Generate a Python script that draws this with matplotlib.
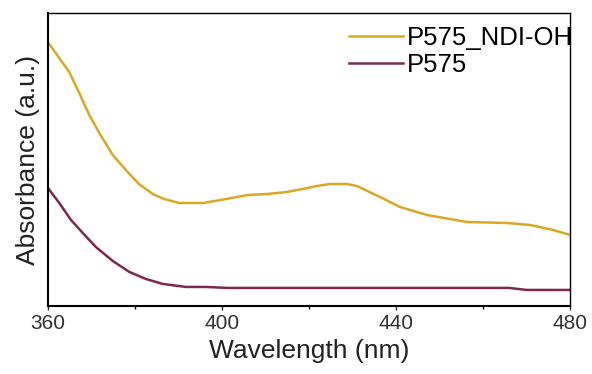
import numpy as np
import matplotlib.pyplot as plt
from matplotlib.ticker import MultipleLocator

plt.rcParams['font.family'] = ['Liberation Sans', 'DejaVu Sans']

# wavelength (nm) and absorbance (a.u.)
wl_ndi = [360.0, 362.6, 364.9, 367.2, 369.5, 371.8, 374.9, 377.9, 380.9, 384.1,
          386.7, 390.2, 395.6, 401.0, 406.0, 410.5, 414.9, 418.5, 421.8, 424.8,
          428.7, 431.0, 436.3, 440.9, 447.1, 456.3, 465.5, 470.8, 476.1, 480.0]
abs_ndi = [2.64, 2.48, 2.34, 2.13, 1.91, 1.73, 1.51, 1.36, 1.22, 1.12,
           1.07, 1.03, 1.03, 1.07, 1.11, 1.12, 1.14, 1.17, 1.20, 1.22,
           1.22, 1.20, 1.09, 0.99, 0.91, 0.84, 0.83, 0.81, 0.76, 0.71]

wl_p575 = [360.0, 362.6, 365.3, 368.0, 371.0, 374.9, 378.7, 382.5, 386.4, 391.7,
           396.3, 401.4, 420.0, 440.0, 460.0, 466.0, 470.0, 480.0]
abs_p575 = [1.18, 1.03, 0.86, 0.73, 0.59, 0.45, 0.34, 0.27, 0.22, 0.19,
            0.19, 0.18, 0.18, 0.18, 0.18, 0.18, 0.16, 0.16]

fig = plt.figure(figsize=(5.92, 3.74), dpi=100)
ax = fig.add_axes([0.081, 0.182, 0.882, 0.783])

ax.plot(wl_ndi, abs_ndi, color='#DBA824', lw=1.8, label='P575_NDI-OH')
ax.plot(wl_p575, abs_p575, color='#7E2850', lw=1.8, label='P575')

ax.set_xlim(360, 480)
ax.set_ylim(0, 2.93)
ax.xaxis.set_major_locator(MultipleLocator(40))
ax.xaxis.set_minor_locator(MultipleLocator(20))
ax.set_yticks([])
ax.tick_params(axis='x', which='major', direction='out', length=3, width=1,
               labelsize=15, colors='#333333', labelcolor='#333333', pad=3)
ax.tick_params(axis='x', which='minor', direction='out', length=2, width=1)
for s in ax.spines.values():
    s.set_linewidth(1.0)
ax.spines['bottom'].set_linewidth(1.5)
ax.spines['left'].set_linewidth(1.5)

ax.set_xlabel('Wavelength (nm)', fontsize=19, color='#222222', labelpad=4)
ax.set_ylabel('Absorbance (a.u.)', fontsize=19, color='#222222', labelpad=6)

ax.legend(loc='upper right', frameon=False, fontsize=18.5, handlelength=2.1,
          handletextpad=0.15, labelspacing=0.1, borderaxespad=0.1,
          bbox_to_anchor=(1.03, 1.0))

fig.savefig('out.png', dpi=100)
